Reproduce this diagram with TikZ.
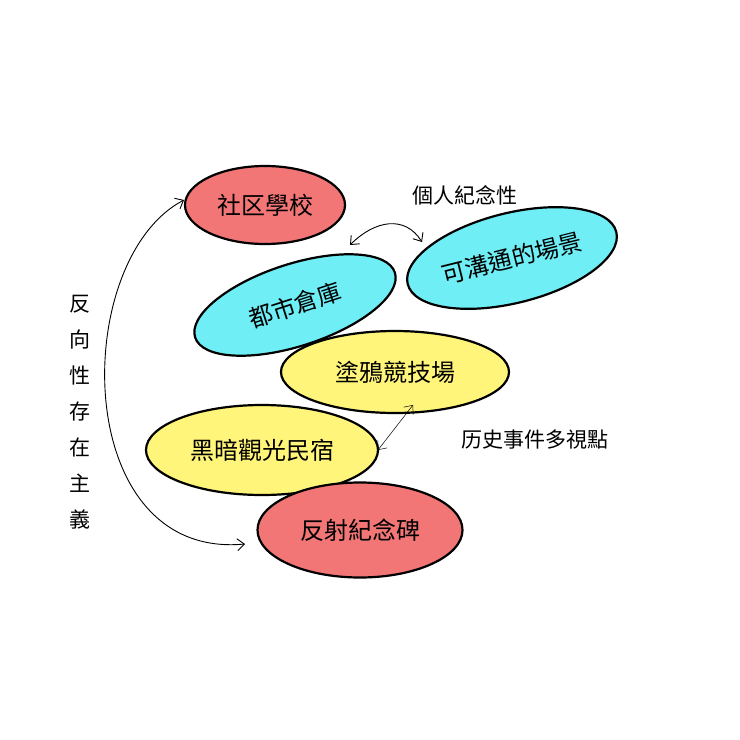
\documentclass[tikz,border=0pt]{standalone}
\usepackage{fontspec}
\newfontfamily\cjk{Noto Sans CJK TC}
\usetikzlibrary{shapes.geometric,arrows.meta}
\definecolor{rd}{HTML}{F27676}
\definecolor{cy}{HTML}{70EEF6}
\definecolor{yl}{HTML}{FFF57A}
\tikzset{
 blob/.style={ellipse,draw=black,line width=2.2pt,inner sep=0pt,font=\cjk\fontsize{24}{26}\selectfont},
 lbl/.style={font=\cjk\fontsize{21}{24}\selectfont},
 arr/.style={arrows={Straight Barb[length=7pt,width=12pt]-Straight Barb[length=7pt,width=12pt]},line width=0.9pt}
}
\begin{document}
\begin{tikzpicture}[x=1pt,y=-1pt]
\useasboundingbox[fill=white] (0,0) rectangle (740,740);
\node[blob,fill=rd,minimum width=160,minimum height=78] (a) at (265,205) {社区學校};
\node[blob,fill=cy,minimum width=210,minimum height=82,rotate=18] (b) at (295,305) {都市倉庫};
\node[blob,fill=cy,minimum width=215,minimum height=90,rotate=14] (c) at (512,258) {可溝通的場景};
\node[blob,fill=yl,minimum width=228,minimum height=82] (d) at (395,372) {塗鴉競技場};
\node[blob,fill=yl,minimum width=232,minimum height=90] (e) at (262,450) {黑暗觀光民宿};
\node[blob,fill=rd,minimum width=205,minimum height=95] (f) at (360,530) {反射紀念碑};
\node[lbl] (g) at (465,195) {個人紀念性};
\node[lbl] (h) at (535,440) {历史事件多視點};
\node[lbl,align=center,text width=24pt,font=\cjk\fontsize{21}{36}\selectfont] (v) at (80,412) {反\\向\\性\\存\\在\\主\\義};
\coordinate (p1) at (184,200);
\coordinate (p2) at (245,544);
\draw[arr] (p1) .. controls (70,260) and (70,560) .. (p2);
\coordinate (q1) at (350,245);
\coordinate (q2) at (422,242);
\draw[arr] (q1) .. controls (375,220) and (405,215) .. (q2);
\coordinate (r1) at (413,405);
\coordinate (r2) at (378,450);
\draw[arr,line width=0.5pt] (r1) -- (r2);
\end{tikzpicture}
\end{document}
